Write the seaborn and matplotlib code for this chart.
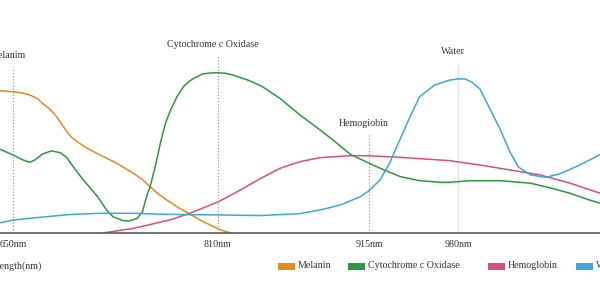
import numpy as np
import pandas as pd
import matplotlib
matplotlib.use("Agg")
import matplotlib.pyplot as plt
from matplotlib.patches import Rectangle
import seaborn as sns

# ---------------- data (wavelength nm, relative absorption) ----------------
melanin_wl = [640, 650, 657, 663, 669, 673, 679, 684, 688, 692, 696, 700, 708, 718, 731, 744, 751,
              757, 763, 770, 779, 788, 796, 804, 811, 819]
melanin_val = [88.9, 88.3, 87.5, 86.3, 84.1, 81.1, 77.2, 72.7, 68.1, 63.3, 59.7, 57.1, 52.9, 48.8,
               43.6, 37.3, 33.4, 28.9, 24.7, 20.6, 15.9, 11.9, 8.1, 5.0, 2.2, 0.0]

cyto_wl = [640, 650, 658, 663, 667, 673, 680, 687, 692, 697, 705, 716, 723, 728, 736, 741, 747, 751,
           755, 757, 761, 765, 769, 773, 778, 783, 787, 791, 798, 804, 810, 816, 820, 832, 841, 853,
           867, 881, 890, 902, 915, 926, 938, 952, 967, 974, 989, 1011, 1033, 1047, 1062, 1076, 1084]
cyto_val = [52.3, 48.8, 45.6, 44.2, 45.6, 49.4, 51.3, 50.2, 47.1, 41.4, 33.1, 22.7, 14.4, 10.2, 7.7,
            7.5, 9.2, 13.3, 24.8, 28.9, 41.4, 56.1, 68.6, 76.9, 85.2, 91.4, 94.4, 96.7, 99.4, 100.0,
            100.2, 99.7, 98.8, 95.2, 91.4, 84.2, 73.8, 64.4, 58.1, 49.2, 43.6, 39.4, 35.2, 32.7, 31.7,
            31.7, 32.7, 32.7, 31.1, 28.3, 24.8, 20.6, 18.6]

hemo_wl = [720, 744, 757, 773, 788, 810, 825, 839, 853, 867, 881, 902, 915, 938, 974, 996, 1018, 1040, 1062, 1084]
hemo_val = [0.0, 2.9, 5.3, 8.3, 12.3, 19.4, 26.6, 33.8, 40.4, 44.6, 47.1, 48.3, 48.3, 47.3, 45.2, 42.5,
            39.4, 36.3, 31.1, 24.8]

water_wl = [640, 650, 671, 695, 718, 744, 773, 810, 839, 867, 881, 895, 909, 915, 923, 930, 938, 945,
            952, 963, 974, 980, 985, 990, 996, 1003, 1011, 1018, 1024, 1033, 1044, 1054, 1069, 1084]
water_val = [6.4, 8.1, 9.8, 11.6, 12.3, 12.3, 11.6, 11.3, 10.9, 12.1, 14.4, 17.5, 22.7, 26.4, 33.1, 43.6,
             59.2, 72.7, 85.2, 92.5, 95.6, 96.3, 96.3, 94.4, 90.0, 78.1, 64.4, 50.6, 41.3, 36.3, 34.8,
             36.9, 42.5, 49.2]

series_names = ["Melanin", "Cytochrome c Oxidase", "Hemoglobin", "Water"]
series_colors = ["#e8891d", "#2a9a3c", "#d8507a", "#3aa8d8"]

tick_wl = [650, 810, 915, 980]
tick_labels = ["650nm", "810nm", "915nm", "980nm"]

peak_wl = [650, 810, 915, 980]
peak_labels = ["Melanim", "Cytochrome c Oxidase", "Hemogiobin", "Water"]
peak_top = [103.9, 110.6, 61.3, 106.3]

axis_name = "Wavelength(nm)"

# ---------------- build table ----------------
frames = []
for name, wl, val in zip(series_names,
                         [melanin_wl, cyto_wl, hemo_wl, water_wl],
                         [melanin_val, cyto_val, hemo_val, water_val]):
    frames.append(pd.DataFrame({"wl": wl, "val": val, "series": name}))
df = pd.concat(frames, ignore_index=True)

# ---------------- figure ----------------
sns.set_theme(style="white")
plt.rcParams["font.family"] = ["Liberation Serif", "DejaVu Sans"]

W, H = 600, 287
fig = plt.figure(figsize=(W / 100, H / 100), dpi=100)
ax = fig.add_axes([0, (H - 233) / H, 1, (233 - 30) / H])

# category-like x scale (piecewise linear between labelled wavelengths)
knots_wl = np.array([500, 650, 810, 915, 980, 1300], dtype=float)
knots_px = np.array([-179.2, 13, 218, 369, 458, 896.2], dtype=float)


def fwd(x):
    return np.interp(x, knots_wl, knots_px)


def inv(p):
    return np.interp(p, knots_px, knots_wl)


ax.set_xscale("function", functions=(fwd, inv))

sns.lineplot(data=df, x="wl", y="val", hue="series", palette=series_colors,
             hue_order=series_names, estimator=None, sort=False, lw=1.1,
             legend=False, ax=ax)
for ln in ax.get_lines():
    ln.set_solid_joinstyle("round")
    ln.set_solid_capstyle("round")

ax.set_xlim(inv(0), inv(600))
ax.set_ylim(0, 203 / 1.6)

# mark lines
for wl, lab, top in zip(peak_wl, peak_labels, peak_top):
    if lab == "Water":
        ax.plot([wl, wl], [0, top], color="#e2e2e2", lw=1.0, zorder=1)
    else:
        ax.plot([wl, wl], [0, top], color="#9a9a9a", lw=0.9,
                linestyle=(0, (1, 1.5)), zorder=1)
    ax.annotate(lab, xy=(wl, top), xytext=(-3.6, 8.3), textcoords="offset points",
                ha="center", va="center", fontsize=7.2, color="#333333")

for s in ["left", "right", "top"]:
    ax.spines[s].set_visible(False)
ax.spines["bottom"].set_color("#5a5a5a")
ax.spines["bottom"].set_linewidth(1.2)
ax.set_yticks([])
ax.set_xticks(tick_wl)
ax.set_xticklabels(tick_labels, fontsize=7.2, color="#333333")
ax.tick_params(axis="x", length=0, pad=5)
ax.set_xlabel("")
ax.set_ylabel("")
ax.grid(False)

# axis name (partly outside figure, as in reference)
fig.text(42 / W, 1 - 266 / H, axis_name, ha="right", va="center",
         fontsize=7.2, color="#333333")

# legend
legend_left = [278, 348, 488, 576]
for name, col, sx in zip(series_names, series_colors, legend_left):
    fig.patches.append(Rectangle((sx / W, 1 - 269.5 / H), 17 / W, 7 / H,
                                 transform=fig.transFigure, facecolor=col,
                                 edgecolor="none"))
    fig.text((sx + 20) / W, 1 - 266 / H, name, ha="left", va="center",
             fontsize=7.2, color="#333333")

fig.savefig("out.png", dpi=100)
